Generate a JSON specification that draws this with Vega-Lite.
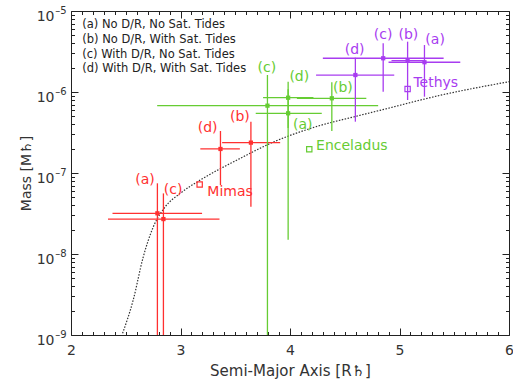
{
  "$schema": "https://vega.github.io/schema/vega-lite/v6.json",
  "width": 438,
  "height": 324,
  "autosize": {"type": "none"},
  "padding": {"left": 71, "top": 11, "right": 4, "bottom": 47},
  "background": "white",
  "config": {
    "view": {"stroke": "#222", "strokeWidth": 1},
    "font": "DejaVu Sans",
    "axis": {"grid": false, "domain": false, "tickColor": "#222", "tickWidth": 1, "labelColor": "#333", "titleColor": "#333", "labelFont": "DejaVu Sans", "titleFont": "DejaVu Sans", "titleFontWeight": "normal", "labelFlush": false, "labelOverlap": false}
  },
  "datasets": {
    "fits": [
      {"moon": "Mimas", "model": "a", "a": 2.789, "m": 3.18e-8, "alo": 2.379, "ahi": 3.197, "mlo": 1e-10, "mhi": 7.46e-8},
      {"moon": "Mimas", "model": "c", "a": 2.844, "m": 2.70e-8, "alo": 2.338, "ahi": 3.356, "mlo": 1e-10, "mhi": 5.6e-8},
      {"moon": "Mimas", "model": "d", "a": 3.365, "m": 1.98e-7, "alo": 3.181, "ahi": 3.542, "mlo": 7.1e-8, "mhi": 3.3e-7},
      {"moon": "Mimas", "model": "b", "a": 3.643, "m": 2.37e-7, "alo": 3.380, "ahi": 3.910, "mlo": 3.84e-8, "mhi": 4.3e-7},
      {"moon": "Enceladus", "model": "c", "a": 3.794, "m": 6.78e-7, "alo": 2.787, "ahi": 4.805, "mlo": 1e-10, "mhi": 1.62e-6},
      {"moon": "Enceladus", "model": "d", "a": 3.983, "m": 8.5e-7, "alo": 3.754, "ahi": 4.214, "mlo": 3.6e-7, "mhi": 1.34e-6},
      {"moon": "Enceladus", "model": "a", "a": 3.983, "m": 5.46e-7, "alo": 3.687, "ahi": 4.290, "mlo": 1.5e-8, "mhi": 1.08e-6},
      {"moon": "Enceladus", "model": "b", "a": 4.382, "m": 8.36e-7, "alo": 4.063, "ahi": 4.697, "mlo": 3.3e-7, "mhi": 1.32e-6},
      {"moon": "Tethys", "model": "d", "a": 4.597, "m": 1.62e-6, "alo": 4.238, "ahi": 4.952, "mlo": 4.3e-7, "mhi": 2.65e-6},
      {"moon": "Tethys", "model": "c", "a": 4.851, "m": 2.61e-6, "alo": 4.300, "ahi": 5.403, "mlo": 1.01e-6, "mhi": 3.99e-6},
      {"moon": "Tethys", "model": "b", "a": 5.074, "m": 2.44e-6, "alo": 4.927, "ahi": 5.221, "mlo": 7.96e-7, "mhi": 4.18e-6},
      {"moon": "Tethys", "model": "a", "a": 5.228, "m": 2.33e-6, "alo": 4.900, "ahi": 5.555, "mlo": 8.75e-7, "mhi": 3.80e-6}
    ],
    "moons": [
      {"moon": "Mimas", "a": 3.175, "m": 7.2e-8, "lx": 3.245, "ly": 5.78e-8},
      {"moon": "Enceladus", "a": 4.176, "m": 1.96e-7, "lx": 4.238, "ly": 2.16e-7},
      {"moon": "Tethys", "a": 5.074, "m": 1.09e-6, "lx": 5.127, "ly": 1.28e-6}
    ],
    "curve": [
      {"a": 2.471, "m": 1.05e-9},
      {"a": 2.568, "m": 2.70e-9},
      {"a": 2.657, "m": 8.9e-9},
      {"a": 2.752, "m": 2.17e-8},
      {"a": 2.859, "m": 3.8e-8},
      {"a": 2.997, "m": 5.6e-8},
      {"a": 3.181, "m": 8.2e-8},
      {"a": 3.518, "m": 1.45e-7},
      {"a": 3.855, "m": 2.43e-7},
      {"a": 4.192, "m": 3.57e-7},
      {"a": 4.651, "m": 5.2e-7},
      {"a": 4.835, "m": 6.0e-7},
      {"a": 5.387, "m": 9.2e-7},
      {"a": 6.0, "m": 1.34e-6}
    ],
    "labels": [
      {"text": "(a)", "moon": "Mimas", "x": 2.676, "y": 8.2e-8},
      {"text": "(c)", "moon": "Mimas", "x": 2.933, "y": 6.17e-8},
      {"text": "(d)", "moon": "Mimas", "x": 3.248, "y": 3.56e-7},
      {"text": "(b)", "moon": "Mimas", "x": 3.542, "y": 4.88e-7},
      {"text": "(c)", "moon": "Enceladus", "x": 3.788, "y": 1.96e-6},
      {"text": "(d)", "moon": "Enceladus", "x": 4.085, "y": 1.52e-6},
      {"text": "(b)", "moon": "Enceladus", "x": 4.483, "y": 1.11e-6},
      {"text": "(a)", "moon": "Enceladus", "x": 4.116, "y": 3.92e-7},
      {"text": "(d)", "moon": "Tethys", "x": 4.590, "y": 3.3e-6},
      {"text": "(c)", "moon": "Tethys", "x": 4.851, "y": 5.06e-6},
      {"text": "(b)", "moon": "Tethys", "x": 5.081, "y": 5.06e-6},
      {"text": "(a)", "moon": "Tethys", "x": 5.325, "y": 4.38e-6}
    ],
    "legend": [
      {"text": "(a) No D/R, No Sat. Tides", "x": 2.103, "y": 6.72e-6},
      {"text": "(b) No D/R, With Sat. Tides", "x": 2.103, "y": 4.39e-6},
      {"text": "(c) With D/R, No Sat. Tides", "x": 2.103, "y": 2.86e-6},
      {"text": "(d) With D/R, With Sat. Tides", "x": 2.103, "y": 1.90e-6}
    ]
  },
  "layer": [
    {
      "data": {"name": "curve"},
      "mark": {"type": "line", "strokeDash": [1.5, 1.5], "color": "#333", "strokeWidth": 1.2, "clip": true, "interpolate": "monotone"},
      "encoding": {
        "x": {"field": "a", "type": "quantitative", "scale": {"domain": [2, 6], "nice": false, "zero": false},
              "axis": {"orient": "bottom", "values": [2, 3, 4, 5, 6], "format": "d", "tickSize": -7, "labelPadding": 15, "labelFontSize": 14, "title": "Semi-Major Axis [R♄]", "titleFontSize": 15, "titlePadding": 6}},
        "y": {"field": "m", "type": "quantitative", "scale": {"type": "log", "domain": [1e-9, 1e-5], "nice": false},
              "axis": {"orient": "left", "values": [1e-9, 1e-8, 1e-7, 1e-6, 1e-5], "tickSize": -7, "labelPadding": 24, "labelOffset": 5, "labelFontSize": 14, "labelExpr": "'10'", "title": "Mass [M♄]", "titleFontSize": 14, "titlePadding": 3}}
      }
    },
    {
      "data": {"name": "fits"},
      "mark": {"type": "rule", "strokeWidth": 1.3, "clip": true},
      "encoding": {
        "x": {"field": "alo", "type": "quantitative", "scale": {"domain": [2, 6], "nice": false, "zero": false},
              "axis": {"orient": "top", "values": [2, 3, 4, 5, 6], "tickSize": -7, "labels": false, "title": null}},
        "x2": {"field": "ahi"},
        "y": {"field": "m", "type": "quantitative", "scale": {"type": "log", "domain": [1e-9, 1e-5], "nice": false},
              "axis": {"orient": "right", "values": [1e-9, 1e-8, 1e-7, 1e-6, 1e-5], "tickSize": -7, "labels": false, "title": null}},
        "color": {"field": "moon", "type": "nominal", "scale": {"domain": ["Mimas", "Enceladus", "Tethys"], "range": ["#ff3030", "#66cc33", "#a83cf0"]}, "legend": null}
      }
    },
    {
      "data": {"name": "fits"},
      "mark": {"type": "rule", "strokeWidth": 1.3, "clip": true},
      "encoding": {
        "x": {"field": "a", "type": "quantitative", "scale": {"domain": [2, 6], "nice": false, "zero": false},
              "axis": {"orient": "bottom", "values": [2.1,2.2,2.3,2.4,2.5,2.6,2.7,2.8,2.9,3.1,3.2,3.3,3.4,3.5,3.6,3.7,3.8,3.9,4.1,4.2,4.3,4.4,4.5,4.6,4.7,4.8,4.9,5.1,5.2,5.3,5.4,5.5,5.6,5.7,5.8,5.9], "tickSize": -3.5, "labels": false, "title": null}},
        "y": {"field": "mlo", "type": "quantitative", "scale": {"type": "log", "domain": [1e-9, 1e-5], "nice": false},
              "axis": {"orient": "left", "values": [2e-9,3e-9,4e-9,5e-9,6e-9,7e-9,8e-9,9e-9,2e-8,3e-8,4e-8,5e-8,6e-8,7e-8,8e-8,9e-8,2e-7,3e-7,4e-7,5e-7,6e-7,7e-7,8e-7,9e-7,2e-6,3e-6,4e-6,5e-6,6e-6,7e-6,8e-6,9e-6], "tickSize": -3.5, "labels": false, "title": null}},
        "y2": {"field": "mhi"},
        "color": {"field": "moon", "type": "nominal", "scale": {"domain": ["Mimas", "Enceladus", "Tethys"], "range": ["#ff3030", "#66cc33", "#a83cf0"]}, "legend": null}
      }
    },
    {
      "data": {"name": "fits"},
      "mark": {"type": "square", "size": 18, "filled": true, "opacity": 1},
      "encoding": {
        "x": {"field": "a", "type": "quantitative", "scale": {"domain": [2, 6], "nice": false, "zero": false},
              "axis": {"orient": "top", "values": [2.1,2.2,2.3,2.4,2.5,2.6,2.7,2.8,2.9,3.1,3.2,3.3,3.4,3.5,3.6,3.7,3.8,3.9,4.1,4.2,4.3,4.4,4.5,4.6,4.7,4.8,4.9,5.1,5.2,5.3,5.4,5.5,5.6,5.7,5.8,5.9], "tickSize": -3.5, "labels": false, "title": null}},
        "y": {"field": "m", "type": "quantitative", "scale": {"type": "log", "domain": [1e-9, 1e-5], "nice": false},
              "axis": {"orient": "right", "values": [2e-9,3e-9,4e-9,5e-9,6e-9,7e-9,8e-9,9e-9,2e-8,3e-8,4e-8,5e-8,6e-8,7e-8,8e-8,9e-8,2e-7,3e-7,4e-7,5e-7,6e-7,7e-7,8e-7,9e-7,2e-6,3e-6,4e-6,5e-6,6e-6,7e-6,8e-6,9e-6], "tickSize": -3.5, "labels": false, "title": null}},
        "color": {"field": "moon", "type": "nominal", "scale": {"domain": ["Mimas", "Enceladus", "Tethys"], "range": ["#ff3030", "#66cc33", "#a83cf0"]}, "legend": null}
      }
    },
    {
      "data": {"name": "moons"},
      "mark": {"type": "square", "size": 28, "filled": false, "strokeWidth": 1.2, "opacity": 1},
      "encoding": {
        "x": {"field": "a", "type": "quantitative", "scale": {"domain": [2, 6], "nice": false, "zero": false}, "axis": null},
        "y": {"field": "m", "type": "quantitative", "scale": {"type": "log", "domain": [1e-9, 1e-5], "nice": false},
              "axis": {"orient": "left", "values": [1e-9, 1e-8, 1e-7, 1e-6, 1e-5], "ticks": false, "labelPadding": 5, "labelOffset": -1, "labelFontSize": 10, "labelExpr": "'–' + round(-log(datum.value)/LN10)", "title": null}},
        "color": {"field": "moon", "type": "nominal", "scale": {"domain": ["Mimas", "Enceladus", "Tethys"], "range": ["#ff3030", "#66cc33", "#a83cf0"]}, "legend": null}
      }
    },
    {
      "data": {"name": "moons"},
      "mark": {"type": "text", "align": "left", "baseline": "middle", "fontSize": 14, "font": "DejaVu Sans"},
      "encoding": {
        "x": {"field": "lx", "type": "quantitative", "scale": {"domain": [2, 6], "nice": false, "zero": false}, "axis": null},
        "y": {"field": "ly", "type": "quantitative", "scale": {"type": "log", "domain": [1e-9, 1e-5], "nice": false}, "axis": null},
        "text": {"field": "moon"},
        "color": {"field": "moon", "type": "nominal", "scale": {"domain": ["Mimas", "Enceladus", "Tethys"], "range": ["#ff3030", "#66cc33", "#a83cf0"]}, "legend": null}
      }
    },
    {
      "data": {"name": "labels"},
      "mark": {"type": "text", "align": "center", "baseline": "middle", "fontSize": 14, "font": "DejaVu Sans"},
      "encoding": {
        "x": {"field": "x", "type": "quantitative", "scale": {"domain": [2, 6], "nice": false, "zero": false}, "axis": null},
        "y": {"field": "y", "type": "quantitative", "scale": {"type": "log", "domain": [1e-9, 1e-5], "nice": false}, "axis": null},
        "text": {"field": "text"},
        "color": {"field": "moon", "type": "nominal", "scale": {"domain": ["Mimas", "Enceladus", "Tethys"], "range": ["#ff3030", "#66cc33", "#a83cf0"]}, "legend": null}
      }
    },
    {
      "data": {"name": "legend"},
      "mark": {"type": "text", "align": "left", "baseline": "middle", "fontSize": 11.5, "font": "DejaVu Sans", "color": "#222"},
      "encoding": {
        "x": {"field": "x", "type": "quantitative", "scale": {"domain": [2, 6], "nice": false, "zero": false}, "axis": null},
        "y": {"field": "y", "type": "quantitative", "scale": {"type": "log", "domain": [1e-9, 1e-5], "nice": false}, "axis": null},
        "text": {"field": "text"}
      }
    }
  ],
  "resolve": {"axis": {"x": "independent", "y": "independent"}}
}
